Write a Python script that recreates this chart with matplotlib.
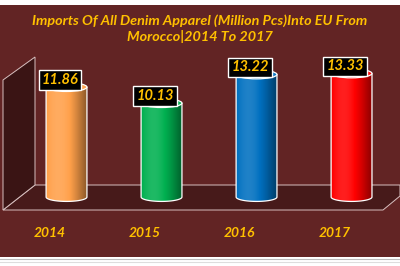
import numpy as np
import matplotlib
matplotlib.use("Agg")
import matplotlib.pyplot as plt
from matplotlib.patches import Rectangle, Polygon, Ellipse
from matplotlib.colors import to_rgb

# data
years = ["2014", "2015", "2016", "2017"]
values = [11.86, 10.13, 13.22, 13.33]
bar_colors = ["#FFA04A", "#00B050", "#0070C0", "#FF0000"]
title = "Imports Of All Denim Apparel (Million Pcs)Into EU From\nMorocco|2014 To 2017"

maroon = "#622424"
floor_c = "#471a1a"
wall_c = "#3a1414"
gold = "#FFC000"
edge_c = "#d8c0c0"

W, H = 400, 266
fig = plt.figure(figsize=(4, 2.66), dpi=100)
fig.patch.set_facecolor("white")

def fx(px):
    return px / W

def fy(py):
    return 1 - py / H

ax = fig.add_axes([0, 0, 1, 1])
ax.set_xlim(-0.7, 3.51)
ax.set_ylim(-7.44, 21.25)
ax.axis("off")
ax.patch.set_alpha(0)
tA = ax.transAxes

# maroon panel
ax.add_patch(Rectangle((0, fy(257)), 1, fy(5) - fy(257), transform=tA,
                       fc=maroon, ec="none", zorder=0))
# gray lines at bottom
for yy, c in [(259, "#bbbbbb"), (262, "#dddddd")]:
    ax.plot([0, 1], [fy(yy), fy(yy)], transform=tA, color=c, lw=0.8, zorder=0)

# left wall and floor (3d frame)
wall = [(3, 210), (3, 80), (35, 57), (35, 185)]
floor = [(3, 210), (35, 185), (400, 185), (400, 196), (383, 210)]
ax.add_patch(Polygon([(fx(a), fy(b)) for a, b in floor], closed=True, transform=tA,
                     fc=floor_c, ec=edge_c, lw=0.7, zorder=1))
ax.add_patch(Polygon([(fx(a), fy(b)) for a, b in wall], closed=True, transform=tA,
                     fc=wall_c, ec=edge_c, lw=0.7, zorder=1))

bw = 0.43
eh = 0.95

def shade(c, f):
    c = np.array(to_rgb(c))
    if f > 1:
        return c + (1 - c) * min(f - 1, 1)
    return c * f

t = np.linspace(0, 1, 60)
prof = 0.72 + 0.4 * np.cos((t - 0.3) * np.pi * 0.9)

for i, (v, c) in enumerate(zip(values, bar_colors)):
    th = np.linspace(np.pi, 2 * np.pi, 40)
    bx = i + bw / 2 * np.cos(th)
    by = eh / 2 * np.sin(th)
    pts = list(zip(bx, by)) + [(i + bw / 2, v), (i - bw / 2, v)]
    body = Polygon(pts, closed=True, fc="none", ec="white", lw=0.9, zorder=4)
    ax.add_patch(body)
    grad = np.array([[shade(c, f) for f in prof]])
    im = ax.imshow(grad, extent=(i - bw / 2, i + bw / 2, -eh / 2, v), aspect="auto",
                   zorder=3, interpolation="bilinear")
    im.set_clip_path(body)
    top = Ellipse((i, v), bw, eh, fc=shade(c, 1.05), ec="white", lw=0.9, zorder=5)
    ax.add_patch(top)
    ax.text(i - 0.07, v + 0.75, f"{v:.2f}", ha="center", va="center", color=gold,
            fontsize=10.5, fontweight="bold", fontstyle="italic", family="Lato", zorder=6,
            bbox=dict(boxstyle="square,pad=0.2", fc="black", ec="white", lw=1))
    ax.text(i - 0.18, -3.9, years[i], ha="center", va="center", color=gold,
            fontsize=10, fontweight="bold", fontstyle="italic", family="Lato", zorder=6)

ax.set_xlim(-0.7, 3.51)
ax.set_ylim(-7.44, 21.25)

ax.text(0.5, fy(29), title, transform=tA, ha="center", va="center", color=gold, fontsize=10.4,
        fontweight="bold", fontstyle="italic", family="Lato", linespacing=1.3, zorder=6)

fig.savefig("out.png", dpi=100, facecolor=fig.get_facecolor())
